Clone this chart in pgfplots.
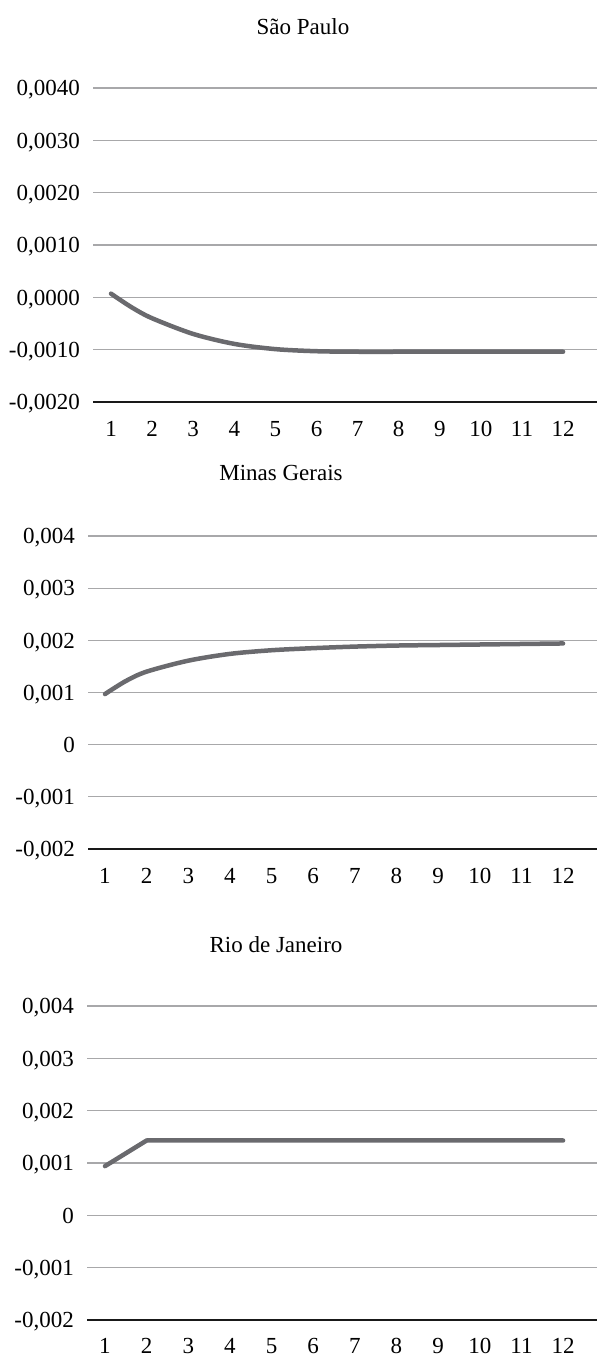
\documentclass[border=0pt]{standalone}
\usepackage{pgfplots}
\pgfplotsset{compat=1.18}
\usepackage{fontspec}
\setmainfont{Liberation Serif}
\definecolor{gridgray}{RGB}{168,168,170}
\definecolor{linegray}{RGB}{106,106,110}
\newcommand{\lblfont}{\fontsize{23}{23}\selectfont}
\pgfplotsset{
  panel/.style={
    scale only axis,
    anchor=south west,
    height=314pt,
    axis x line*=bottom, axis y line*=left,
    y axis line style={draw=none},
    x axis line style={black!90, line width=2pt},
    ymin=-0.002, ymax=0.004,
    ytick={-0.002,-0.001,0,0.001,0.002,0.003,0.004},
    xtick={1,2,3,4,5,6,7,8,9,10,11,12},
    major tick length=0pt,
    ymajorgrids, grid style={gridgray, line width=1.3pt},
    scaled y ticks=false,
    tick label style={font=\lblfont},
    /pgf/number format/assume math mode=true,
    xticklabel style={anchor=center, text height=15.5pt, text depth=0pt, inner sep=0pt, yshift=-27pt},
    yticklabel style={anchor=east, text height=15.5pt, text depth=0pt, inner sep=0pt, xshift=-13pt},
    clip=false,
  },
  dline/.style={linegray, line width=4.5pt, line cap=round, line join=round, no marks},
}
\begin{document}
\begin{tikzpicture}[x=1pt,y=1pt]
\useasboundingbox (0,0) rectangle (597,1356);
% Sao Paulo
\begin{axis}[panel, at={(93pt,954pt)}, width=504pt, xmin=0.562, xmax=12.825,
  yticklabel={\pgfmathprintnumber[fixed,fixed zerofill,precision=4,use comma]{\tick}}]
\addplot[dline, smooth, tension=0.5] coordinates {
(1,0.00007) (1.5,-0.00019) (2,-0.00040) (3,-0.00070) (4,-0.00089) (5,-0.00099) (6,-0.00103)
(7,-0.00104) (8,-0.00104) (9,-0.00104) (10,-0.00104) (11,-0.00104) (12,-0.00104)};
\end{axis}
\node[font=\lblfont] at (303,1329) {São Paulo};
% Minas Gerais
\begin{axis}[panel, at={(88pt,507pt)}, width=509pt, height=313pt, xmin=0.592, xmax=12.815,
  yticklabel={\pgfmathprintnumber[fixed,precision=3,use comma]{\tick}}]
\addplot[dline, smooth, tension=0.5] coordinates {
(1,0.00097) (1.5,0.00122) (2,0.00140) (3,0.00161) (4,0.00174) (5,0.00181) (6,0.00185)
(7,0.00188) (8,0.00190) (9,0.00191) (10,0.00192) (11,0.00193) (12,0.00194)};
\end{axis}
\node[font=\lblfont] at (281,883) {Minas Gerais};
% Rio de Janeiro
\begin{axis}[panel, at={(87pt,36pt)}, width=510pt, xmin=0.568, xmax=12.815,
  yticklabel={\pgfmathprintnumber[fixed,precision=3,use comma]{\tick}},
  xticklabel style={yshift=1.5pt}]
\addplot[dline] coordinates {
(1,0.00094) (2,0.00143) (3,0.00143) (4,0.00143) (5,0.00143) (6,0.00143)
(7,0.00143) (8,0.00143) (9,0.00143) (10,0.00143) (11,0.00143) (12,0.00143)};
\end{axis}
\node[font=\lblfont] at (276,411) {Rio de Janeiro};
\end{tikzpicture}
\end{document}
